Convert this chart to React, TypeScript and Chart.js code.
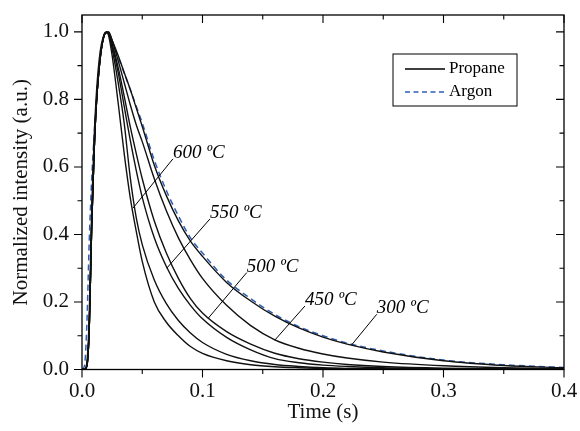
import React, { useEffect, useRef } from "react";
import { Chart, registerables } from "chart.js";

Chart.register(...registerables);

// ---------------- data ----------------
const TIME = [0, 0.002, 0.004, 0.006, 0.008, 0.01, 0.012, 0.015, 0.018, 0.02, 0.022, 0.025, 0.03, 0.035, 0.04, 0.045, 0.05, 0.06, 0.07, 0.08, 0.09, 0.1, 0.12, 0.14, 0.16, 0.18, 0.2, 0.22, 0.25, 0.3, 0.35, 0.4];

const ARGON = [0, 0.01, 0.13, 0.38, 0.56, 0.69, 0.8, 0.92, 0.985, 1.0, 0.995, 0.97, 0.925, 0.878, 0.83, 0.78, 0.73, 0.62, 0.53, 0.455, 0.39, 0.345, 0.265, 0.21, 0.163, 0.127, 0.1, 0.078, 0.055, 0.028, 0.014, 0.006];

// propane, fastest decay (unlabelled leftmost curve)
const PROPANE_A = [0, 0, 0.02, 0.16, 0.47, 0.68, 0.82, 0.94, 0.99, 1.0, 0.99, 0.93, 0.79, 0.64, 0.51, 0.41, 0.32, 0.2, 0.14, 0.1, 0.068, 0.048, 0.026, 0.014, 0.008, 0.005, 0.003, 0.002, 0.001, 0, 0, 0];
// 600 ºC
const PROPANE_600 = [0, 0, 0.01, 0.12, 0.42, 0.64, 0.79, 0.92, 0.985, 0.998, 0.995, 0.95, 0.85, 0.73, 0.57, 0.45, 0.37, 0.265, 0.195, 0.145, 0.108, 0.08, 0.045, 0.026, 0.015, 0.009, 0.005, 0.003, 0.002, 0.001, 0, 0];
// 550 ºC
const PROPANE_550 = [0, 0, 0.01, 0.12, 0.42, 0.64, 0.79, 0.92, 0.985, 0.998, 0.997, 0.96, 0.88, 0.78, 0.68, 0.59, 0.51, 0.39, 0.305, 0.24, 0.19, 0.15, 0.095, 0.058, 0.032, 0.02, 0.013, 0.009, 0.005, 0.002, 0.001, 0];
// 500 ºC
const PROPANE_500 = [0, 0, 0.01, 0.12, 0.42, 0.64, 0.79, 0.92, 0.985, 0.998, 0.998, 0.965, 0.895, 0.81, 0.72, 0.64, 0.565, 0.44, 0.345, 0.27, 0.21, 0.167, 0.112, 0.075, 0.048, 0.032, 0.022, 0.015, 0.009, 0.004, 0.002, 0.001];
// 450 ºC
const PROPANE_450 = [0, 0, 0.01, 0.12, 0.42, 0.64, 0.79, 0.92, 0.985, 0.998, 1.0, 0.975, 0.915, 0.85, 0.785, 0.725, 0.675, 0.565, 0.47, 0.39, 0.325, 0.27, 0.19, 0.13, 0.088, 0.063, 0.046, 0.034, 0.022, 0.011, 0.005, 0.002];
// 300 ºC
const PROPANE_300 = [0, 0, 0.01, 0.12, 0.42, 0.64, 0.79, 0.92, 0.985, 0.998, 1.0, 0.975, 0.93, 0.88, 0.83, 0.775, 0.72, 0.605, 0.515, 0.44, 0.38, 0.335, 0.258, 0.203, 0.158, 0.123, 0.096, 0.075, 0.052, 0.026, 0.012, 0.005];

const PROPANE_SERIES = [PROPANE_A, PROPANE_600, PROPANE_550, PROPANE_500, PROPANE_450, PROPANE_300];

// annotations (data units)
const TEMP_LABELS = ["600 ºC", "550 ºC", "500 ºC", "450 ºC", "300 ºC"];
const LABEL_X = [0.0755, 0.1062, 0.1367, 0.185, 0.2446];
const LABEL_Y = [0.627, 0.449, 0.29, 0.191, 0.1665];
const LEADER_END_X = [0.0423, 0.0703, 0.1048, 0.16, 0.2238];
const LEADER_END_Y = [0.478, 0.3, 0.152, 0.087, 0.073];

const X_MAJOR = [0, 0.1, 0.2, 0.3, 0.4];
const X_MINOR = [0.05, 0.15, 0.25, 0.35];
const Y_MAJOR = [0, 0.2, 0.4, 0.6, 0.8, 1.0];
const Y_MINOR = [0.1, 0.3, 0.5, 0.7, 0.9];

const LEGEND_LABELS = ["Propane", "Argon"];

const FONT = "'Liberation Serif', 'Times New Roman', serif";
const BLUE = "#2f5fb3";

const toPoints = (ys: number[]) => TIME.map((t, i) => ({ x: t, y: ys[i] }));

const decorPlugin = {
  id: "decor",
  afterDatasetsDraw(chart: any) {
    const { ctx, chartArea, scales } = chart;
    const xs = scales.x;
    const ys = scales.y;
    const { left, right, top, bottom } = chartArea;
    ctx.save();
    ctx.strokeStyle = "#000";
    ctx.fillStyle = "#000";

    // frame
    ctx.lineWidth = 1.3;
    ctx.strokeRect(left, top, right - left, bottom - top);

    // ticks
    const major = 8;
    const minor = 4.5;
    ctx.lineWidth = 1.1;
    ctx.beginPath();
    const xTick = (v: number, len: number) => {
      const p = xs.getPixelForValue(v);
      ctx.moveTo(p, bottom);
      ctx.lineTo(p, bottom + len);
      ctx.moveTo(p, top);
      ctx.lineTo(p, top + len);
    };
    const yTick = (v: number, len: number) => {
      const p = ys.getPixelForValue(v);
      ctx.moveTo(left, p);
      ctx.lineTo(left - len, p);
      ctx.moveTo(right, p);
      ctx.lineTo(right - len, p);
    };
    X_MAJOR.forEach((v) => xTick(v, major));
    X_MINOR.forEach((v) => xTick(v, minor));
    Y_MAJOR.forEach((v) => yTick(v, major));
    Y_MINOR.forEach((v) => yTick(v, minor));
    ctx.stroke();

    // annotations
    ctx.lineWidth = 1;
    ctx.font = `italic 19px ${FONT}`;
    ctx.textAlign = "left";
    ctx.textBaseline = "alphabetic";
    TEMP_LABELS.forEach((txt, i) => {
      const lx = xs.getPixelForValue(LABEL_X[i]);
      const ly = ys.getPixelForValue(LABEL_Y[i]);
      const ex = xs.getPixelForValue(LEADER_END_X[i]);
      const ey = ys.getPixelForValue(LEADER_END_Y[i]);
      ctx.beginPath();
      ctx.moveTo(lx, ly + 1);
      ctx.lineTo(ex, ey);
      ctx.stroke();
      ctx.fillText(txt, lx, ly);
    });

    // legend
    const bx = right - 171;
    const by = top + 39;
    const bw = 124;
    const bh = 52;
    ctx.fillStyle = "#fff";
    ctx.fillRect(bx, by, bw, bh);
    ctx.strokeStyle = "#000";
    ctx.lineWidth = 1;
    ctx.strokeRect(bx, by, bw, bh);
    ctx.font = `17px ${FONT}`;
    ctx.textBaseline = "middle";
    ctx.fillStyle = "#000";
    // propane
    ctx.lineWidth = 1.4;
    ctx.beginPath();
    ctx.moveTo(bx + 12, by + 15);
    ctx.lineTo(bx + 52, by + 15);
    ctx.stroke();
    ctx.fillText(LEGEND_LABELS[0], bx + 56, by + 15);
    // argon
    ctx.strokeStyle = BLUE;
    ctx.setLineDash([5, 3.5]);
    ctx.beginPath();
    ctx.moveTo(bx + 12, by + 38);
    ctx.lineTo(bx + 52, by + 38);
    ctx.stroke();
    ctx.setLineDash([]);
    ctx.fillText(LEGEND_LABELS[1], bx + 56, by + 38);
    ctx.restore();
  },
};

export default function App() {
  const ref = useRef<HTMLCanvasElement | null>(null);
  useEffect(() => {
    document.body.style.margin = "0";
    const canvas = ref.current;
    if (!canvas) return;
    const datasets: any[] = PROPANE_SERIES.map((s) => ({
      data: toPoints(s),
      borderColor: "#111",
      borderWidth: 1.4,
      pointRadius: 0,
      cubicInterpolationMode: "monotone",
      fill: false,
    }));
    datasets.push({
      data: toPoints(ARGON),
      borderColor: BLUE,
      borderWidth: 1.5,
      borderDash: [6, 4],
      pointRadius: 0,
      cubicInterpolationMode: "monotone",
      fill: false,
    });
    const chart = new Chart(canvas, {
      type: "line",
      data: { datasets },
      options: {
        responsive: false,
        animation: false,
        devicePixelRatio: 1,
        layout: { padding: { left: 0, right: 16, top: 15, bottom: 0 } },
        plugins: { legend: { display: false }, tooltip: { enabled: false } },
        scales: {
          x: {
            type: "linear",
            min: 0,
            max: 0.4,
            afterBuildTicks: (s: any) => {
              s.ticks = X_MAJOR.map((v) => ({ value: v }));
            },
            afterFit: (s: any) => {
              s.height = 61.5;
              s.paddingLeft = 0;
              s.paddingRight = 0;
            },
            grid: { display: false, drawTicks: false },
            border: { display: false },
            ticks: {
              color: "#111",
              font: { family: FONT, size: 21 },
              padding: 9,
              maxRotation: 0,
              callback: (v: any) => Number(v).toFixed(1),
            },
            title: {
              display: true,
              text: "Time (s)",
              color: "#111",
              font: { family: FONT, size: 21 },
              padding: { top: 0, bottom: 6 },
            },
          },
          y: {
            type: "linear",
            min: 0,
            max: 1.05,
            afterBuildTicks: (s: any) => {
              s.ticks = Y_MAJOR.map((v) => ({ value: v }));
            },
            afterFit: (s: any) => {
              s.width = 82;
              s.paddingTop = 0;
              s.paddingBottom = 0;
            },
            grid: { display: false, drawTicks: false },
            border: { display: false },
            ticks: {
              color: "#111",
              font: { family: FONT, size: 21 },
              padding: 13,
              callback: (v: any) => Number(v).toFixed(1),
            },
            title: {
              display: true,
              text: "Normalized intensity (a.u.)",
              color: "#111",
              font: { family: FONT, size: 21 },
              padding: { top: 9, bottom: 0 },
            },
          },
        },
      },
      plugins: [decorPlugin],
    });
    return () => chart.destroy();
  }, []);
  return (
    <div style={{ width: 580, height: 431, background: "#fff" }}>
      <canvas ref={ref} width={580} height={431} />
    </div>
  );
}
